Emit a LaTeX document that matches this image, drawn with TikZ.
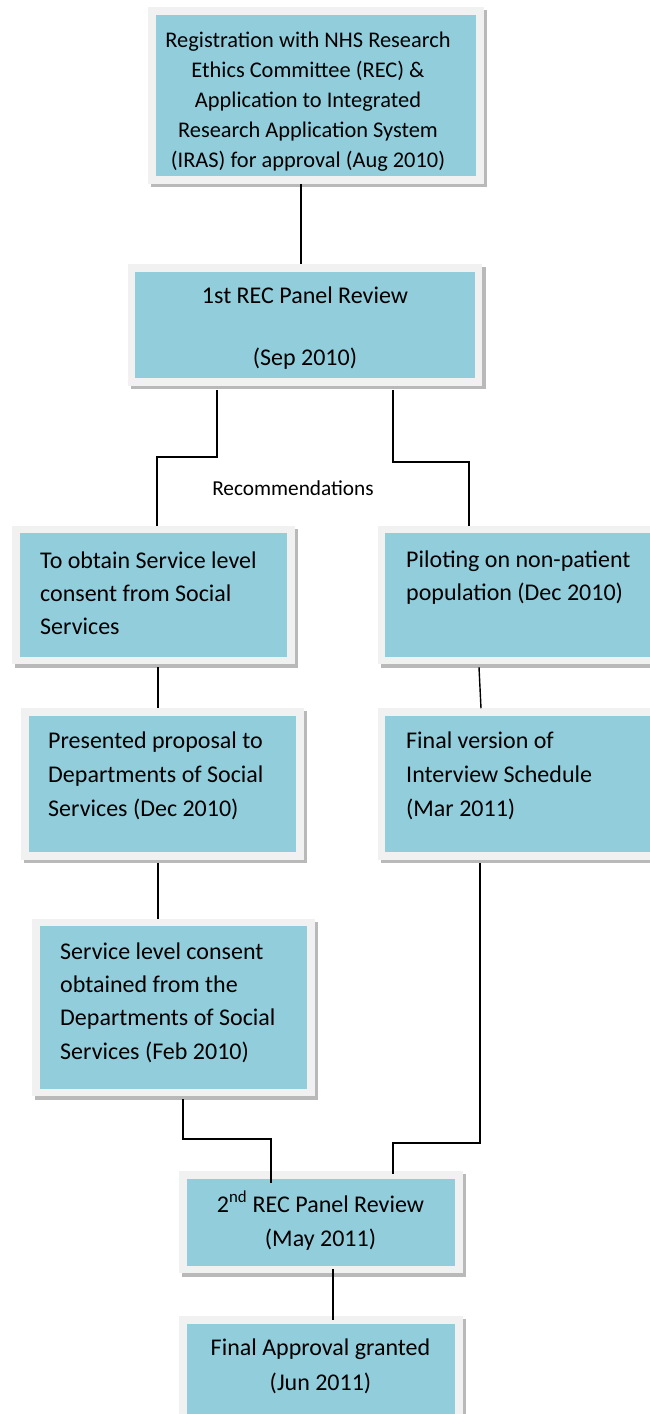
\documentclass[tikz,border=0pt]{standalone}
\usepackage{fontspec}
\setmainfont{Carlito}
\usetikzlibrary{calc}
\pgfdeclarelayer{background}
\pgfsetlayers{background,main}
\definecolor{boxblue}{RGB}{146,205,220}
\definecolor{framegray}{RGB}{241,241,241}
\definecolor{shadowgray}{RGB}{185,185,185}
\newcommand{\boxshadow}[1]{%
  \fill[shadowgray] ($(#1.south west)+(3,3.5)$) rectangle ($(#1.north east)+(3.5,3)$);}
\tikzset{
  stagebox/.style={draw=framegray, fill=boxblue, line width=7.5pt, inner sep=0pt, rectangle},
  linkline/.style={draw=black, line width=1.4pt},
  lefttext/.style={anchor=base west, align=left, inner sep=0pt},
  midtext/.style={anchor=base, align=center, inner sep=0pt}
}
\begin{document}
\begin{tikzpicture}[x=1pt,y=-1pt]
\useasboundingbox (0,0) rectangle (650,1414);
\clip (0,0) rectangle (650,1414);

% stage boxes (path runs along the middle of the light frame)
\node[stagebox, minimum width=328pt, minimum height=169pt] (b1) at (316,95.5) {};
\node[stagebox, minimum width=347pt, minimum height=114pt] (b2) at (305,325) {};
\node[stagebox, minimum width=275pt, minimum height=131pt] (b3) at (153.5,595) {};
\node[stagebox, minimum width=300pt, minimum height=131pt] (b4) at (531.5,595) {};
\node[stagebox, minimum width=275pt, minimum height=144pt] (b5) at (162.5,784) {};
\node[stagebox, minimum width=300pt, minimum height=144pt] (b6) at (531.5,784) {};
\node[stagebox, minimum width=275pt, minimum height=170pt] (b7) at (173.5,1007.5) {};
\node[stagebox, minimum width=276pt, minimum height=94.5pt] (b8) at (321,1222.25) {};
\node[stagebox, minimum width=276pt, minimum height=120pt] (b9) at (321,1380) {};

% white page and the drop shadows behind the boxes
\begin{pgfonlayer}{background}
  \fill[white] (0,0) rectangle (650,1414);
  \boxshadow{b1}\boxshadow{b2}\boxshadow{b3}\boxshadow{b4}\boxshadow{b5}
  \boxshadow{b6}\boxshadow{b7}\boxshadow{b8}\boxshadow{b9}
\end{pgfonlayer}

% box texts (each placed by the baseline of its last line)
\node[midtext, font={\fontsize{22.4}{30}\selectfont}] (t1) at (308,167)
  {Registration with NHS Research\\Ethics Committee (REC) \&\\Application to Integrated\\Research Application System\\(IRAS) for approval (Aug 2010)};
\node[midtext, font={\fontsize{24}{31}\selectfont}] (t2) at (305,365)
  {1st REC Panel Review\\\mbox{}\\(Sep 2010)};
\node[lefttext, font={\fontsize{24}{33}\selectfont}] (t3) at (40,634)
  {To obtain Service level\\consent from Social\\Services};
\node[lefttext, font={\fontsize{24}{33}\selectfont}] (t4) at (406,600)
  {Piloting on non-patient\\population (Dec 2010)};
\node[lefttext, font={\fontsize{24}{34}\selectfont}] (t5) at (48,816)
  {Presented proposal to\\Departments of Social\\Services (Dec 2010)};
\node[lefttext, font={\fontsize{24}{34}\selectfont}] (t6) at (406,816)
  {Final version of\\Interview Schedule\\(Mar 2011)};
\node[lefttext, font={\fontsize{24}{33.3}\selectfont}] (t7) at (60,1059)
  {Service level consent\\obtained from the\\Departments of Social\\Services (Feb 2010)};
\node[midtext, font={\fontsize{24}{34}\selectfont}] (t8) at (320.5,1246)
  {2\textsuperscript{nd} REC Panel Review\\(May 2011)};
\node[midtext, font={\fontsize{24}{35}\selectfont}] (t9) at (320.5,1390)
  {Final Approval granted\\(Jun 2011)};

\node[midtext, font={\fontsize{21.3}{25}\selectfont}] (rec) at (293,495) {Recommendations};

% connectors
\draw[linkline] (b1.south -| 301,0) -- (b2.north -| 301,0);
\draw[linkline] ($(b2.south -| 217,0)+(0,4)$) -- (217,457) -- (157,457) -- (b3.north -| 157,0);
\draw[linkline] ($(b2.south -| 393,0)+(0,4)$) -- (393,462) -- (469,462) -- (b4.north -| 469,0);
\draw[linkline] ($(b3.south -| 158,0)+(0,3)$) -- (b5.north -| 158,0);
\draw[linkline] ($(b4.south -| 479,0)+(0,3)$) -- (b6.north -| 481,0);
\draw[linkline] ($(b5.south -| 158,0)+(0,3)$) -- (b7.north -| 158,0);
\draw[linkline] ($(b7.south -| 183,0)+(0,3)$) -- (183,1139) -- (271,1139) -- ($(b8.north -| 271,0)+(0,12)$);
\draw[linkline] ($(b6.south -| 480,0)+(0,3)$) -- (480,1143) -- (393,1143) -- ($(b8.north -| 393,0)+(0,3)$);
\draw[linkline] ($(b8.south -| 333,0)+(0,-4)$) -- ($(b9.north -| 333,0)+(0,4)$);
\end{tikzpicture}
\end{document}
